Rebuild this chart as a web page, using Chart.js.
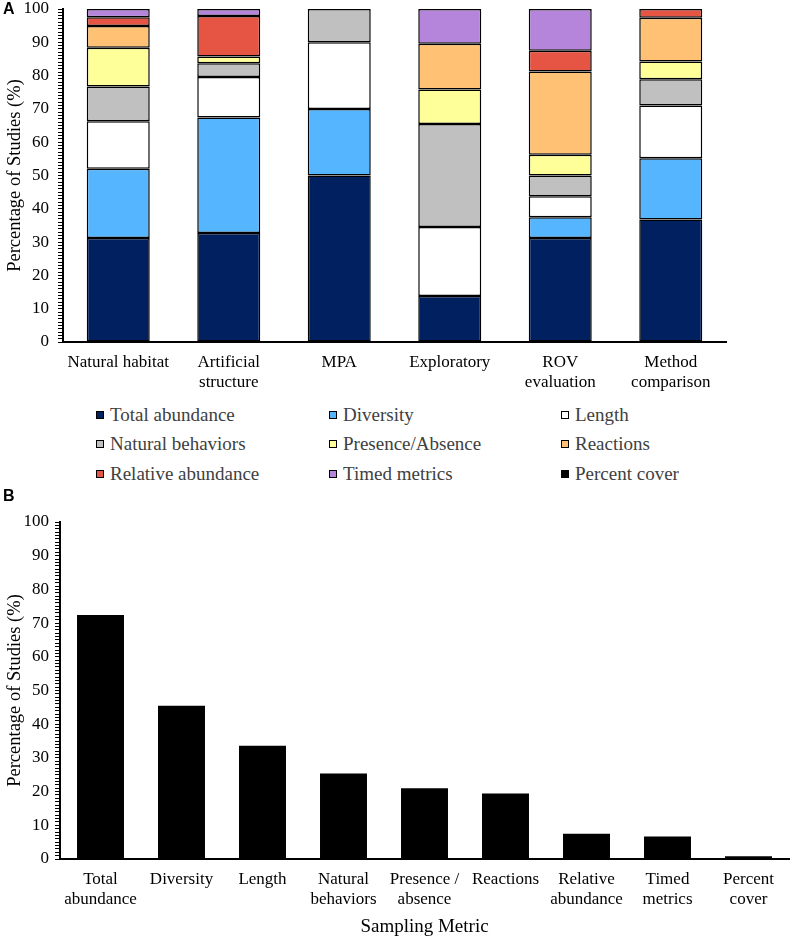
<!DOCTYPE html>
<html>
<head>
<meta charset="utf-8">
<script src="https://cdn.jsdelivr.net/npm/chart.js@4.4.1/dist/chart.umd.min.js"></script>
<style>
  html, body { margin: 0; padding: 0; background: #fff; }
  #wrap { position: relative; width: 793px; height: 940px; overflow: hidden; }
  canvas { position: absolute; left: 0; }
  #cA { top: 0; }
  #cB { top: 490px; }
  .panel { position: absolute; left: 3px; font: bold 16px "Liberation Sans", Arial, sans-serif; color: #000; }
  #legend { position: absolute; left: 0; top: 403px; width: 793px; height: 85px; }
  .li { position: absolute; font: 19px "Liberation Serif", "Times New Roman", serif; color: #404040; line-height: 22px; white-space: nowrap; }
  .sw { position: absolute; width: 6px; height: 6px; border: 1.5px solid #000; }
</style>
</head>
<body>
<div id="wrap">
  <canvas id="cA" width="793" height="400"></canvas>
  <div id="legend"></div>
  <canvas id="cB" width="793" height="450"></canvas>
  <div class="panel" style="top:0px;">A</div>
  <div class="panel" style="top:487px;">B</div>
</div>
<script>
// ---------- Panel A data ----------
const categoriesA = ['Natural habitat', ['Artificial', 'structure'], 'MPA', 'Exploratory', ['ROV', 'evaluation'], ['Method', 'comparison']];
const seriesNames = ['Total abundance', 'Diversity', 'Length', 'Natural behaviors', 'Presence/Absence', 'Reactions', 'Relative abundance', 'Timed metrics', 'Percent cover'];
const seriesColors = ['#002060', '#55B5FF', '#FFFFFF', '#C0C0C0', '#FFFF99', '#FFC174', '#E65443', '#B585DB', '#000000'];
const totalAbundance    = [31.2, 32.7, 50, 13.8, 31.25, 36.8];
const diversity         = [20.8, 34.7, 20, 0, 6.25, 18.4];
const lengthMetric      = [14.3, 12.2, 20, 20.7, 6.25, 15.8];
const naturalBehaviors  = [10.4, 4.1, 10, 31.0, 6.25, 7.9];
const presenceAbsence   = [11.7, 2.0, 0, 10.3, 6.25, 5.3];
const reactions         = [6.5, 0, 0, 13.8, 25.0, 13.2];
const relativeAbundance = [2.6, 12.2, 0, 0, 6.25, 2.6];
const timedMetrics      = [2.5, 2.1, 0, 10.4, 12.5, 0];
const percentCover      = [0, 0, 0, 0, 0, 0];
const seriesValues = [totalAbundance, diversity, lengthMetric, naturalBehaviors, presenceAbsence, reactions, relativeAbundance, timedMetrics, percentCover];

// ---------- Panel B data ----------
const categoriesB = [['Total', 'abundance'], 'Diversity', 'Length', ['Natural', 'behaviors'], ['Presence /', 'absence'], 'Reactions', ['Relative', 'abundance'], ['Timed', 'metrics'], ['Percent', 'cover']];
const studiesPct = [72.4, 45.5, 33.6, 25.4, 21.0, 19.4, 7.5, 6.7, 0.8];

const yTickValues = [0, 10, 20, 30, 40, 50, 60, 70, 80, 90, 100];

const SERIF = '"Liberation Serif", "Times New Roman", serif';

function yAxis(width, pad) {
  return {
    min: 0, max: 100,
    ticks: {
      stepSize: 1, autoSkip: false, color: '#000', padding: pad,
      font: { family: SERIF, size: 17, lineHeight: 1.0 },
      callback: (v) => yTickValues.includes(v) ? String(v) : ''
    },
    grid: { display: true, drawOnChartArea: false, drawTicks: true, tickLength: 5, color: '#000', lineWidth: 1 },
    border: { display: true, color: '#000', width: 2 },
    title: { display: true, text: 'Percentage of Studies (%)', color: '#000', font: { family: SERIF, size: 18.5 }, padding: { top: 4, bottom: 4 } },
    afterFit: (s) => { s.width = width; s.paddingTop = 0; s.paddingBottom = 0; }
  };
}

Chart.defaults.animation = false;

// ---------- Chart A ----------
new Chart(document.getElementById('cA'), {
  type: 'bar',
  data: {
    labels: categoriesA,
    datasets: seriesNames.map((name, i) => ({
      label: name,
      data: seriesValues[i],
      backgroundColor: seriesColors[i],
      borderColor: '#000',
      borderWidth: 1.5,
      borderSkipped: false,
      categoryPercentage: 1,
      barPercentage: 0.57
    }))
  },
  options: {
    responsive: false,
    animation: false,
    layout: { padding: { left: 0, right: 67, top: 9, bottom: 0 } },
    plugins: { legend: { display: false }, tooltip: { enabled: false } },
    scales: {
      x: {
        stacked: true,
        ticks: { color: '#000', padding: 10, font: { family: SERIF, size: 17, lineHeight: 1.2 }, maxRotation: 0, autoSkip: false },
        grid: { display: false, drawTicks: false },
        border: { display: true, color: '#000', width: 2 },
        afterFit: (s) => { s.height = 58; }
      },
      y: Object.assign(yAxis(63, 9), { stacked: true })
    }
  }
});

// ---------- Legend A (built from series arrays) ----------
(function () {
  const leg = document.getElementById('legend');
  const colX = [96, 329, 561];
  const rowY = [12, 41, 71];
  seriesNames.forEach((name, i) => {
    const c = i % 3, r = Math.floor(i / 3);
    const sw = document.createElement('div');
    sw.className = 'sw';
    sw.style.left = colX[c] + 'px';
    sw.style.top = (rowY[r] - 4.5) + 'px';
    sw.style.background = seriesColors[i];
    leg.appendChild(sw);
    const t = document.createElement('div');
    t.className = 'li';
    t.textContent = name;
    t.style.left = (colX[c] + 14) + 'px';
    t.style.top = (rowY[r] - 11) + 'px';
    leg.appendChild(t);
  });
})();

// ---------- Chart B ----------
new Chart(document.getElementById('cB'), {
  type: 'bar',
  data: {
    labels: categoriesB,
    datasets: [{
      label: 'Percentage of Studies',
      data: studiesPct,
      backgroundColor: '#000',
      borderWidth: 0,
      categoryPercentage: 1,
      barPercentage: 0.58
    }]
  },
  options: {
    responsive: false,
    animation: false,
    layout: { padding: { left: 0, right: 4, top: 32, bottom: 0 } },
    plugins: { legend: { display: false }, tooltip: { enabled: false } },
    scales: {
      x: {
        ticks: { color: '#000', padding: 10, font: { family: SERIF, size: 17, lineHeight: 1.2 }, maxRotation: 0, autoSkip: false },
        grid: { display: false, drawTicks: false },
        border: { display: true, color: '#000', width: 2 },
        title: { display: true, text: 'Sampling Metric', color: '#000', font: { family: SERIF, size: 19 }, padding: { top: 4, bottom: 2 } },
        afterFit: (s) => { s.height = 81; }
      },
      y: yAxis(60, 6)
    }
  }
});
</script>
</body>
</html>
